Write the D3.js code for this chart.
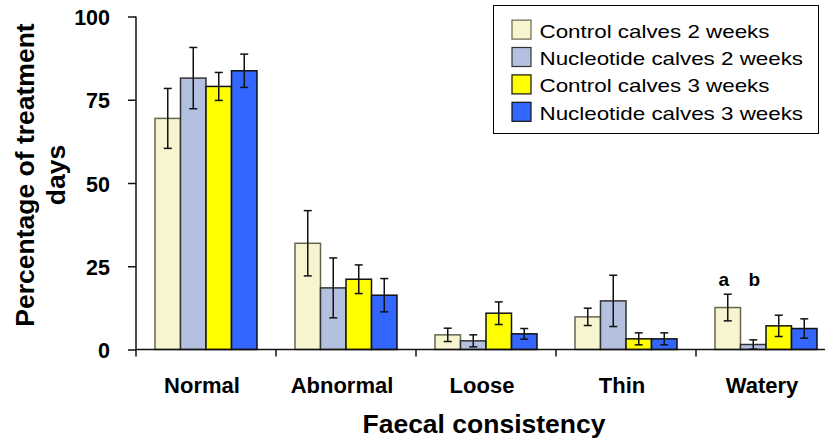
<!DOCTYPE html>
<html>
<head>
<meta charset="utf-8">
<script src="https://cdn.jsdelivr.net/npm/d3@7"></script>
<style>
  html, body { margin: 0; padding: 0; background: #fff; }
  svg { display: block; font-family: "Liberation Sans", Arial, Helvetica, sans-serif; }
</style>
</head>
<body>
<svg id="chart" width="825" height="444"></svg>
<script>
// Faecal consistency categories
const categories = ["Normal", "Abnormal", "Loose", "Thin", "Watery"];

// Series: mean percentage of treatment days and error (SE)
const seriesNames = [
  "Control calves 2 weeks",
  "Nucleotide calves 2 weeks",
  "Control calves 3 weeks",
  "Nucleotide calves 3 weeks"
];
const control2 = [69.4, 31.9, 4.4, 9.8, 12.6];
const control2Err = [9.0, 9.8, 2.0, 2.6, 4.0];
const nucleotide2 = [81.5, 18.5, 2.6, 14.6, 1.5];
const nucleotide2Err = [9.2, 9.0, 1.8, 7.7, 1.4];
const control3 = [79.0, 21.1, 10.9, 3.2, 7.1];
const control3Err = [4.2, 4.3, 3.4, 1.8, 3.2];
const nucleotide3 = [83.7, 16.3, 4.7, 3.2, 6.3];
const nucleotide3Err = [5.0, 5.0, 1.6, 1.8, 2.9];

// Significance letters above the Watery bars
const sigLetters = [
  { category: "Watery", series: 0, text: "a" },
  { category: "Watery", series: 1, text: "b" }
];

const yTicks = [0, 25, 50, 75, 100];

const seriesValues = [control2, nucleotide2, control3, nucleotide3];
const seriesErrors = [control2Err, nucleotide2Err, control3Err, nucleotide3Err];

const svg = d3.select("#chart");

// Fills: pale tints for the 2-week series, solid colours for 3 weeks
const fills = ["#f7f5cf", "#b3c0e0", "#ffff00", "#3366ff"];
const strokes = ["#66664f", "#333333", "#111111", "#111111"];

// Scales
const plotLeft = 136, plotRight = 836, yBottom = 349.5, yTop = 16.5;
const x0 = d3.scaleBand()
  .domain(categories)
  .range([plotLeft, plotRight])
  .paddingInner(38 / 140)
  .paddingOuter(19 / 140);
const x1 = d3.scaleBand()
  .domain(d3.range(seriesNames.length))
  .range([0, x0.bandwidth()]);
const y = d3.scaleLinear().domain([0, 100]).range([yBottom, yTop]);

// Bars
const groups = svg.append("g").selectAll("g")
  .data(categories)
  .join("g")
  .attr("transform", d => `translate(${x0(d)},0)`);

const rows = (c, i) => seriesValues.map((vals, s) => ({ s, v: vals[i], e: seriesErrors[s][i] }));

groups.selectAll("rect")
  .data(rows)
  .join("rect")
  .attr("x", d => x1(d.s))
  .attr("y", d => y(d.v))
  .attr("width", x1.bandwidth())
  .attr("height", d => y(0) - y(d.v))
  .attr("fill", d => fills[d.s])
  .attr("stroke", d => strokes[d.s])
  .attr("stroke-width", 1.5);

// Error bars
const capHalf = 4;
const cx = d => x1(d.s) + x1.bandwidth() / 2;
const eb = groups.selectAll("g.err")
  .data(rows)
  .join("g").attr("class", "err")
  .attr("stroke", "#111").attr("stroke-width", 1.5);
eb.append("line")
  .attr("x1", cx).attr("x2", cx)
  .attr("y1", d => y(Math.max(0, d.v - d.e)))
  .attr("y2", d => y(d.v + d.e));
eb.append("line")
  .attr("x1", d => cx(d) - capHalf).attr("x2", d => cx(d) + capHalf)
  .attr("y1", d => y(d.v + d.e)).attr("y2", d => y(d.v + d.e));
eb.append("line")
  .attr("x1", d => cx(d) - capHalf).attr("x2", d => cx(d) + capHalf)
  .attr("y1", d => y(Math.max(0, d.v - d.e))).attr("y2", d => y(Math.max(0, d.v - d.e)));

// Significance letters
svg.append("g").selectAll("text")
  .data(sigLetters)
  .join("text")
  .attr("x", d => x0(d.category) + x1(d.series) + x1.bandwidth() / 2 + (d.series === 0 ? -4 : 1))
  .attr("y", d => {
    const i = categories.indexOf(d.category);
    return y(Math.max(seriesValues[0][i] + seriesErrors[0][i], seriesValues[1][i] + seriesErrors[1][i])) - 8;
  })
  .attr("text-anchor", "middle")
  .attr("font-size", 19).attr("font-weight", "bold")
  .text(d => d.text);

// Y axis
const yAxis = svg.append("g")
  .attr("transform", `translate(${plotLeft},0)`)
  .call(d3.axisLeft(y).tickValues(yTicks).tickSize(8).tickPadding(18));
yAxis.select(".domain").attr("d", `M0,${yTop}V${yBottom + 7}`).attr("stroke", "#111").attr("stroke-width", 1.5);
yAxis.selectAll(".tick line").attr("stroke", "#111").attr("stroke-width", 1.5);
yAxis.selectAll(".tick text")
  .attr("font-family", "Liberation Sans, Arial, sans-serif")
  .attr("font-size", 21.5).attr("font-weight", "bold").attr("fill", "#000")
  .attr("dy", "0.38em");

// X axis line with ticks between categories
const xAxis = svg.append("g");
xAxis.append("line")
  .attr("x1", plotLeft).attr("x2", plotRight)
  .attr("y1", yBottom).attr("y2", yBottom)
  .attr("stroke", "#111").attr("stroke-width", 1.5);
xAxis.selectAll("line.sep")
  .data(categories.slice(1))
  .join("line").attr("class", "sep")
  .attr("x1", d => x0(d) - x0.step() * x0.paddingInner() / 2)
  .attr("x2", d => x0(d) - x0.step() * x0.paddingInner() / 2)
  .attr("y1", yBottom).attr("y2", yBottom + 7)
  .attr("stroke", "#111").attr("stroke-width", 1.5);

// Category labels
xAxis.selectAll("text")
  .data(categories)
  .join("text")
  .attr("x", d => x0(d) + x0.bandwidth() / 2 - 4)
  .attr("y", 393)
  .attr("text-anchor", "middle")
  .attr("font-size", 22).attr("font-weight", "bold")
  .text(d => d);

// Axis titles
svg.append("text")
  .attr("x", 484).attr("y", 433)
  .attr("text-anchor", "middle")
  .attr("font-size", 26.5).attr("font-weight", "bold")
  .text("Faecal consistency");

const yTitle = svg.append("text")
  .attr("transform", "translate(33.5,175) rotate(-90)")
  .attr("text-anchor", "middle")
  .attr("font-size", 26.5).attr("font-weight", "bold");
yTitle.append("tspan").attr("x", 0).attr("y", 0).text("Percentage of treatment");
yTitle.append("tspan").attr("x", 0).attr("y", 31.5).text("days");

// Legend
const legend = svg.append("g");
legend.append("rect")
  .attr("x", 493.5).attr("y", 5.5).attr("width", 325).attr("height", 128)
  .attr("fill", "#fff").attr("stroke", "#000").attr("stroke-width", 1);
const rowY = i => 37.6 + i * 27.4;
const items = legend.selectAll("g.item")
  .data(seriesNames)
  .join("g").attr("class", "item");
items.append("rect")
  .attr("x", 512).attr("y", (d, i) => rowY(i) - 17.5)
  .attr("width", 19).attr("height", 19)
  .attr("fill", (d, i) => fills[i])
  .attr("stroke", (d, i) => strokes[i]).attr("stroke-width", 1.2);
items.append("text")
  .attr("transform", (d, i) => `translate(539.5,${rowY(i)}) scale(1.19,1)`)
  .attr("font-size", 18.8)
  .text(d => d);
</script>
</body>
</html>
